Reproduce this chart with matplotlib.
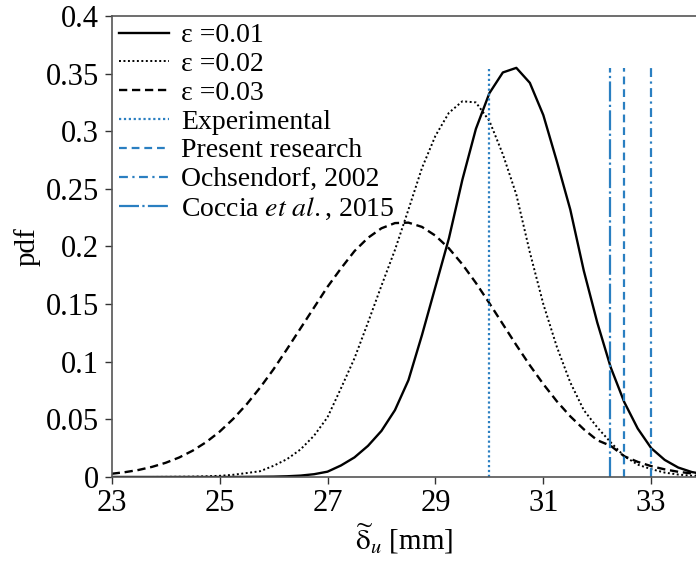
import matplotlib
matplotlib.use("Agg")
import matplotlib.pyplot as plt
import numpy as np

# displacement grid [mm]
x_mm = [23.0, 23.25, 23.5, 23.75, 24.0, 24.25, 24.5, 24.75, 25.0, 25.25, 25.5, 25.75,
        26.0, 26.25, 26.5, 26.75, 27.0, 27.25, 27.5, 27.75, 28.0, 28.25, 28.5, 28.75,
        29.0, 29.25, 29.5, 29.75, 30.0, 30.25, 30.5, 30.75, 31.0, 31.25, 31.5, 31.75,
        32.0, 32.25, 32.5, 32.75, 33.0, 33.25, 33.5, 33.75, 34.0]

pdf_001 = [0, 0, 0, 0, 0, 0, 0, 0, 0, 0, 0.0001, 0.0002,
           0.0003, 0.0006, 0.0012, 0.0024, 0.0046, 0.010, 0.017, 0.027, 0.040, 0.058, 0.084, 0.123,
           0.165, 0.207, 0.258, 0.302, 0.333, 0.351, 0.355, 0.342, 0.314, 0.274, 0.232, 0.179,
           0.134, 0.095, 0.065, 0.042, 0.025, 0.0148, 0.0082, 0.0043, 0.0022]

pdf_002 = [0, 0, 0, 0, 0.0001, 0.0002, 0.0003, 0.0006, 0.001, 0.0019, 0.0034, 0.005,
           0.0097, 0.0155, 0.0239, 0.0358, 0.0518, 0.077, 0.103, 0.134, 0.166, 0.197, 0.232, 0.268,
           0.296, 0.316, 0.326, 0.325, 0.309, 0.280, 0.245, 0.195, 0.150, 0.113, 0.082, 0.058,
           0.043, 0.030, 0.018, 0.0107, 0.0068, 0.0038, 0.0021, 0.0011, 0.0006]

pdf_003 = [0.0028, 0.0042, 0.0061, 0.0088, 0.0123, 0.0169, 0.0228, 0.0302, 0.0393, 0.0503, 0.063, 0.0775,
           0.0935, 0.111, 0.129, 0.147, 0.165, 0.181, 0.196, 0.2075, 0.2158, 0.2203, 0.2207, 0.217,
           0.2094, 0.1984, 0.1845, 0.1684, 0.1508, 0.1326, 0.1144, 0.0969, 0.0806, 0.0657, 0.0526, 0.0414,
           0.0319, 0.027, 0.018, 0.0131, 0.0094, 0.0066, 0.0045, 0.0031, 0.0021]

# reference values [mm]
ref_names = ["Experimental", "Present research", "Ochsendorf, 2002",
             r"Coccia $\mathit{et\ al.}$, 2015"]
ref_x = [30.0, 32.5, 33.0, 32.23]
ref_top = 0.355

blue = "#2a7fc1"

plt.rcParams['font.family'] = ['Liberation Serif', 'DejaVu Serif']
plt.rcParams['mathtext.fontset'] = 'stix'

fig = plt.figure(figsize=(6.96, 5.65), dpi=100)
ax = fig.add_axes([0.1605, 0.1558, 0.8395, 0.8159])

ax.plot(x_mm, pdf_001, color='black', lw=1.7, ls='-', label="ε =0.01")
ax.plot(x_mm, pdf_002, color='black', lw=1.4, ls=(0, (1, 1.3)), label="ε =0.02")
ax.plot(x_mm, pdf_003, color='black', lw=1.7, ls=(0, (3.5, 2)), label="ε =0.03")

styles = [(0, (1, 1.2)), (0, (3.5, 2.2)), (0, (4, 2, 1, 2)), (0, (9, 1.5, 1, 1.5))]
for name, xv, st in zip(ref_names, ref_x, styles):
    ax.plot([xv, xv], [0, ref_top], color=blue, lw=1.6, ls=st, label=name)

ax.set_xlim(23, 33.83)
ax.set_ylim(0, 0.4)
ax.set_xticks([23, 25, 27, 29, 31, 33])
ax.set_yticks(np.arange(0, 0.401, 0.05))
ax.yaxis.set_major_formatter(matplotlib.ticker.FormatStrFormatter('%g'))
ax.tick_params(direction='out', length=5, width=1, labelsize=22, colors='#333333',
               labelcolor='black', pad=4)
ax.spines['right'].set_visible(False)
for s in ['left', 'bottom', 'top']:
    ax.spines[s].set_color('#555555')
    ax.spines[s].set_linewidth(1.2)

ax.set_ylabel("pdf", fontsize=21, labelpad=4)
ax.set_xlabel(r"$\widetilde{\mathrm{\delta}}_{u}$ [mm]", fontsize=21, labelpad=2)

ax.legend(loc='upper left', bbox_to_anchor=(0.0, 1.0), frameon=False, fontsize=20,
          handlelength=1.8, handletextpad=0.45, labelspacing=0.12, borderaxespad=0.05,
          borderpad=0.2)

plt.savefig("out.png", dpi=100)
